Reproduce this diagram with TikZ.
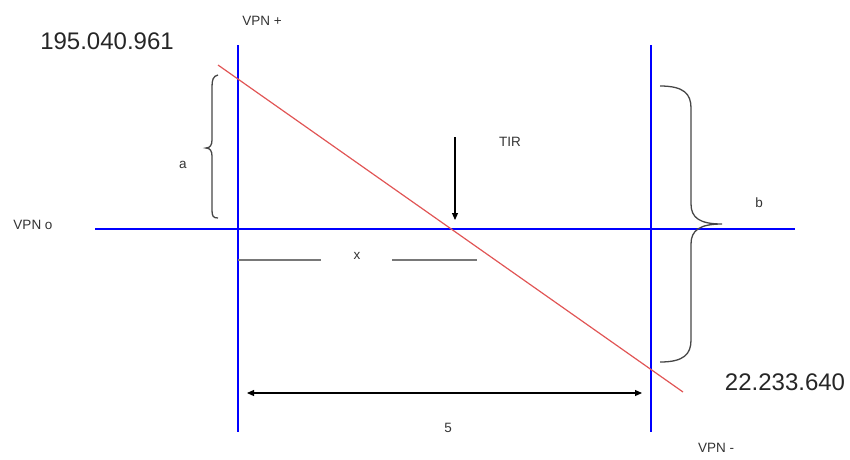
\documentclass[tikz,border=0pt]{standalone}
\usepackage{fontspec}
\setmainfont{Liberation Sans}
\usetikzlibrary{arrows.meta}
\begin{document}
\begin{tikzpicture}[x=1pt,y=-1pt,
  axis/.style={draw=blue,line width=2.3pt},
  redline/.style={draw={rgb,255:red,225;green,85;blue,85},line width=1.2pt},
  seg/.style={draw={rgb,255:red,120;green,120;blue,120},line width=2pt},
  bracestyle/.style={draw={rgb,255:red,70;green,70;blue,70},line width=1.3pt},
  arr/.style={draw=black,line width=1.1pt,-{Triangle[length=7pt,width=6pt]}},
  darr/.style={draw=black,line width=1.1pt,{Triangle[length=7pt,width=6pt]}-{Triangle[length=7pt,width=6pt]}},
  big/.style={font=\fontsize{24}{28}\selectfont,text=black!85,inner sep=0pt},
  small/.style={font=\fontsize{13.5}{16}\selectfont,text=black!80,inner sep=0pt}]
\useasboundingbox (0,0) rectangle (850,459);
% coordinates
\coordinate (L1) at (238,45);  \coordinate (L2) at (238,432);
\coordinate (R1) at (651,45);  \coordinate (R2) at (651,432);
\coordinate (H1) at (95,229);  \coordinate (H2) at (795,229);
\coordinate (D1) at (218,65);  \coordinate (D2) at (683,392);
% main lines
\draw[axis] (H1) -- (H2);
\draw[axis] (L1) -- (L2);
\draw[axis] (R1) -- (R2);
\draw[redline] (D1) -- (D2);
% x segments
\coordinate (X1) at (238,260); \coordinate (X2) at (321,260);
\coordinate (X3) at (392,260); \coordinate (X4) at (477,260);
\draw[seg] (X1) -- (X2);
\draw[seg] (X3) -- (X4);
% brace a
\draw[bracestyle] (218,75) .. controls (213,76) and (212,80) .. (212,87) -- (212,140)
  .. controls (212,145) and (210,148) .. (206,148)
  .. controls (210,148) and (212,151) .. (212,156) -- (212,210)
  .. controls (212,216) and (213,218) .. (218,218);
% brace b
\draw[bracestyle] (660,86) .. controls (684,86) and (691,94) .. (691,108) -- (691,204)
  .. controls (691,218) and (700,224) .. (722,224)
  .. controls (700,224) and (691,230) .. (691,244) -- (691,340)
  .. controls (691,354) and (684,362) .. (660,362);
% TIR arrow
\coordinate (T1) at (455,137); \coordinate (T2) at (455,220);
\draw[arr] (T1) -- (T2);
% bottom arrow
\coordinate (B1) at (247,393); \coordinate (B2) at (642,393);
\draw[darr] (B1) -- (B2);
% texts
\node[big] (n1) at (107,41) {195.040.961};
\node[big] (n2) at (785,382) {22.233.640};
\node[small] (vp) at (262,21) {VPN +};
\node[small] (vo) at (33,225) {VPN o};
\node[small] (vm) at (716,448) {VPN -};
\node[small] (tir) at (510,142) {TIR};
\node[small] (la) at (183,165) {a};
\node[small] (lb) at (759,203) {b};
\node[small] (lx) at (357,256) {x};
\node[small] (l5) at (448,428) {5};
\end{tikzpicture}
\end{document}
